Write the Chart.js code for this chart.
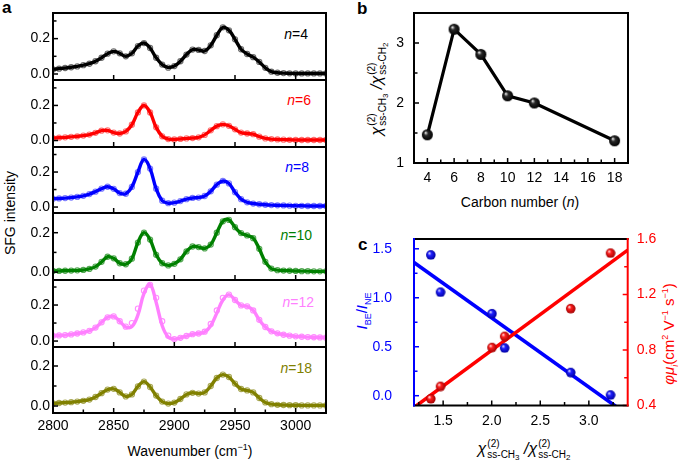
<!DOCTYPE html>
<html>
<head>
<meta charset="utf-8">
<script src="https://cdn.jsdelivr.net/npm/chart.js@4.4.1/dist/chart.umd.min.js"></script>
<style>
  html, body { margin: 0; padding: 0; background: #fff; }
  #fig { position: relative; width: 685px; height: 463px; overflow: hidden;
         font-family: 'Liberation Sans', Arial, Helvetica, sans-serif; color: #000; }
  #fig canvas { position: absolute; }
  .lbl { position: absolute; white-space: nowrap; font-size: 14px; line-height: 1; }
  .panel { font-weight: bold; font-size: 17px; }
  .ctr { transform: translate(-50%, -50%); }
  .rot { transform: translate(-50%, -50%) rotate(-90deg); }
  .nl { transform: translate(-100%, -50%); }
  .chi { font-size: 16px; font-style: italic; }
  .ss { display: inline-flex; flex-direction: column; vertical-align: 7px; font-size: 10px; line-height: 11px; margin-left: 1px; }
  .s2 { font-size: 8px; position: relative; top: 2px; }
  sup, sub { font-size: 9px; line-height: 0; }
</style>
</head>
<body>
<div id="fig">
  <div class="lbl panel" style="left:2px;top:-1px">a</div>
  <div class="lbl panel" style="left:357px;top:0px">b</div>
  <div class="lbl panel" style="left:358px;top:236px">c</div>

  <div class="lbl rot" style="left:10px;top:213px">SFG intensity</div>
  <div class="lbl ctr" style="left:190px;top:451px">Wavenumber (cm<sup>&minus;1</sup>)</div>

  <div class="lbl nl" style="left:308px;top:34px;color:#000000"><i>n</i>=4</div>
  <div class="lbl nl" style="left:311px;top:100px;color:#ff0000"><i>n</i>=6</div>
  <div class="lbl nl" style="left:309px;top:167px;color:#0000ff"><i>n</i>=8</div>
  <div class="lbl nl" style="left:312px;top:235px;color:#008000"><i>n</i>=10</div>
  <div class="lbl nl" style="left:314px;top:302px;color:#ff80ff"><i>n</i>=12</div>
  <div class="lbl nl" style="left:312px;top:368px;color:#808000"><i>n</i>=18</div>

  <div class="lbl ctr" style="left:520px;top:202px">Carbon number (<i>n</i>)</div>
  <div class="lbl rot" style="left:377px;top:89px"><span class="chi">&chi;</span><span class="ss"><span>(2)</span><span>ss-CH<span class="s2">3</span></span></span><span class="chi">&nbsp;/&chi;</span><span class="ss"><span>(2)</span><span>ss-CH<span class="s2">2</span></span></span></div>

  <div class="lbl ctr" style="left:524px;top:449px"><span class="chi">&chi;</span><span class="ss"><span>(2)</span><span>ss-CH<span class="s2">3</span></span></span><span class="chi">&nbsp;/&chi;</span><span class="ss"><span>(2)</span><span>ss-CH<span class="s2">2</span></span></span></div>
  <div class="lbl rot" style="left:361px;top:311px;color:#0000ff;font-size:15px"><i>I</i><sub>BE</sub>/<i>I</i><sub>NE</sub></div>
  <div class="lbl rot" style="left:668px;top:334px;color:#ff0000;font-size:15px"><i>&phi;&mu;</i><sub><i>i</i></sub>(cm<sup>2</sup> V<sup>&minus;1</sup> s<sup>&minus;1</sup>)</div>
</div>
<script>
// ---------- data ----------
const wavenumbers = [2800, 2805, 2810, 2815, 2820, 2825, 2830, 2835, 2840, 2845,
  2850, 2855, 2860, 2865, 2870, 2875, 2880, 2885, 2890, 2895,
  2900, 2905, 2910, 2915, 2920, 2925, 2930, 2935, 2940, 2945,
  2950, 2955, 2960, 2965, 2970, 2975, 2980, 2985, 2990, 2995,
  3000, 3005, 3010, 3015, 3020, 3025];

const sfgN4 = [0.026, 0.030, 0.034, 0.038, 0.043, 0.050, 0.058, 0.072, 0.092, 0.115,
  0.128, 0.117, 0.100, 0.117, 0.158, 0.175, 0.147, 0.092, 0.053, 0.036,
  0.045, 0.072, 0.110, 0.138, 0.136, 0.130, 0.162, 0.219, 0.264, 0.247,
  0.196, 0.140, 0.113, 0.095, 0.068, 0.035, 0.013, 0.007, 0.005, 0.004,
  0.003, 0.003, 0.003, 0.003, 0.003, 0.003];
const sfgN6 = [0.014, 0.016, 0.018, 0.021, 0.024, 0.028, 0.034, 0.044, 0.056, 0.058,
  0.045, 0.040, 0.052, 0.090, 0.160, 0.200, 0.160, 0.075, 0.024, 0.008,
  0.006, 0.009, 0.012, 0.014, 0.018, 0.032, 0.058, 0.082, 0.092, 0.084,
  0.064, 0.045, 0.040, 0.036, 0.022, 0.012, 0.008, 0.006, 0.005, 0.004,
  0.003, 0.003, 0.003, 0.003, 0.003, 0.003];
const sfgN8 = [0.048, 0.049, 0.051, 0.054, 0.058, 0.064, 0.074, 0.088, 0.105, 0.116,
  0.104, 0.080, 0.076, 0.115, 0.200, 0.272, 0.220, 0.105, 0.036, 0.022,
  0.025, 0.034, 0.045, 0.052, 0.054, 0.063, 0.090, 0.128, 0.149, 0.135,
  0.085, 0.045, 0.027, 0.020, 0.016, 0.013, 0.011, 0.010, 0.009, 0.008,
  0.007, 0.007, 0.006, 0.006, 0.006, 0.006];
const sfgN10 = [0.006, 0.006, 0.007, 0.008, 0.009, 0.011, 0.016, 0.028, 0.052, 0.078,
  0.070, 0.045, 0.040, 0.068, 0.150, 0.200, 0.165, 0.088, 0.045, 0.034,
  0.042, 0.065, 0.105, 0.130, 0.127, 0.120, 0.140, 0.200, 0.258, 0.265,
  0.228, 0.198, 0.186, 0.172, 0.118, 0.052, 0.018, 0.010, 0.008, 0.007,
  0.006, 0.005, 0.005, 0.004, 0.004, 0.004];
const sfgN12Fit = [0.030, 0.031, 0.033, 0.037, 0.042, 0.048, 0.057, 0.075, 0.104, 0.132,
  0.137, 0.110, 0.078, 0.080, 0.145, 0.265, 0.315, 0.215, 0.085, 0.022,
  0.011, 0.018, 0.028, 0.038, 0.042, 0.050, 0.085, 0.155, 0.228, 0.258,
  0.228, 0.198, 0.193, 0.170, 0.118, 0.078, 0.054, 0.043, 0.035, 0.030,
  0.026, 0.024, 0.022, 0.021, 0.020, 0.019];
const sfgN12Data = [0.030, 0.031, 0.033, 0.037, 0.042, 0.048, 0.057, 0.075, 0.104, 0.132,
  0.137, 0.110, 0.080, 0.100, 0.180, 0.280, 0.312, 0.240, 0.110, 0.030,
  0.011, 0.018, 0.028, 0.038, 0.042, 0.052, 0.095, 0.170, 0.240, 0.258,
  0.228, 0.198, 0.193, 0.170, 0.118, 0.078, 0.054, 0.043, 0.035, 0.030,
  0.026, 0.024, 0.022, 0.021, 0.020, 0.019];
const sfgN18 = [0.013, 0.015, 0.017, 0.019, 0.022, 0.026, 0.032, 0.045, 0.064, 0.082,
  0.086, 0.068, 0.048, 0.058, 0.098, 0.122, 0.095, 0.052, 0.022, 0.012,
  0.017, 0.035, 0.058, 0.066, 0.062, 0.068, 0.100, 0.140, 0.157, 0.145,
  0.112, 0.085, 0.078, 0.068, 0.040, 0.018, 0.009, 0.006, 0.005, 0.004,
  0.004, 0.003, 0.003, 0.003, 0.003, 0.003];

const wnMajorTicks = [2800, 2850, 2900, 2950, 3000];
const wnMinorTicks = [2825, 2875, 2925, 2975];
const sfgTicks = [0, 0.2];

// panel b
const carbonNumbers = [4, 6, 8, 10, 12, 18];
const chiRatio = [1.47, 3.23, 2.81, 2.12, 2.00, 1.37];
const carbonTicks = [4, 6, 8, 10, 12, 14, 16, 18];
const carbonMinorTicks = [5, 7, 9, 11, 13, 15, 17];
const chiTicks = [1, 2, 3];
const chiMinorTicks = [1.5, 2.5];

// panel c
const cChiRatio = [1.37, 1.47, 2.00, 2.13, 2.81, 3.22];
const cIntensityRatio = [1.44, 1.06, 0.84, 0.49, 0.24, 0.01];
const cMobility = [0.45, 0.54, 0.82, 0.90, 1.10, 1.50];
const fitX = [1.2, 3.4];
const intensityFitY = [1.36, -0.195];
const mobilityFitY = [0.386, 1.52];
const cXTicks = [1.5, 2.0, 2.5, 3.0];
const cXMinorTicks = [1.25, 1.75, 2.25, 2.75, 3.25];
const cLeftTicks = [0, 0.5, 1.0, 1.5];
const cLeftMinorTicks = [0.25, 0.75, 1.25];
const cRightTicks = [0.4, 0.8, 1.2, 1.6];
const cRightMinorTicks = [0.6, 1.0, 1.4];

// ---------- helpers ----------
Chart.defaults.font.family = "'Liberation Sans', Arial, Helvetica, sans-serif";
Chart.defaults.font.size = 14;
Chart.defaults.color = '#000';

const fig = document.getElementById('fig');
function addCanvas(left, top, w, h) {
  const c = document.createElement('canvas');
  c.width = w; c.height = h;
  c.style.left = left + 'px'; c.style.top = top + 'px';
  c.style.width = w + 'px'; c.style.height = h + 'px';
  fig.appendChild(c);
  return c;
}
const toXY = (xs, ys) => xs.map((x, i) => ({ x: x, y: ys[i] }));
const setTicks = (vals) => (s) => { s.ticks = vals.map((v) => ({ value: v })); };
const fixSize = (prop, val) => (s) => {
  s[prop] = val;
  s.paddingTop = s.paddingBottom = s.paddingLeft = s.paddingRight = 0;
};
const noGrid = { display: false, drawTicks: false };
const noBorder = { display: false };

// frame + inward ticks, drawn over the data
function makeFrame(cfg) {
  return {
    id: 'frame',
    afterDatasetsDraw(chart) {
      const { ctx, chartArea: a } = chart;
      ctx.save();
      ctx.lineCap = 'butt';
      (cfg.ticks || []).forEach((t) => {
        const s = chart.scales[t.scale];
        ctx.strokeStyle = t.color || '#000';
        ctx.lineWidth = 1.5;
        const draw = (v, len) => {
          const p = s.getPixelForValue(v);
          ctx.beginPath();
          if (t.side === 'bottom') { ctx.moveTo(p, a.bottom); ctx.lineTo(p, a.bottom - len); }
          else if (t.side === 'left') { ctx.moveTo(a.left, p); ctx.lineTo(a.left + len, p); }
          else { ctx.moveTo(a.right, p); ctx.lineTo(a.right - len, p); }
          ctx.stroke();
        };
        (t.major || []).forEach((v) => draw(v, 5));
        (t.minor || []).forEach((v) => draw(v, 3.5));
      });
      const c = cfg.colors || {};
      ctx.lineWidth = cfg.width || 2;
      ctx.lineCap = 'square';
      const side = (col, x1, y1, x2, y2) => {
        ctx.strokeStyle = col; ctx.beginPath(); ctx.moveTo(x1, y1); ctx.lineTo(x2, y2); ctx.stroke();
      };
      side(c.top || '#000', a.left, a.top, a.right, a.top);
      side(c.bottom || '#000', a.left, a.bottom, a.right, a.bottom);
      side(c.left || '#000', a.left, a.top, a.left, a.bottom);
      side(c.right || '#000', a.right, a.top, a.right, a.bottom);
      ctx.restore();
    },
  };
}

function sphere(r, light, mid, dark) {
  const c = document.createElement('canvas');
  c.width = c.height = 2 * r + 2;
  const g = c.getContext('2d');
  const cx = r + 1, cy = r + 1;
  const grad = g.createRadialGradient(cx - r * 0.35, cy - r * 0.4, r * 0.05, cx, cy, r);
  grad.addColorStop(0, light);
  grad.addColorStop(0.35, mid);
  grad.addColorStop(1, dark);
  g.fillStyle = grad;
  g.beginPath(); g.arc(cx, cy, r, 0, Math.PI * 2); g.fill();
  return c;
}

// ---------- panel a: six stacked spectra ----------
const panelTops = [13, 80, 147, 213, 280, 347, 413];
const spectra = [
  { fit: sfgN4, pts: sfgN4, color: '#000000', circ: 'rgba(60,60,60,0.75)', yMin: -0.034, yMax: 0.345 },
  { fit: sfgN6, pts: sfgN6, color: '#ff0000', circ: 'rgba(255,70,70,0.75)', yMin: -0.037, yMax: 0.345 },
  { fit: sfgN8, pts: sfgN8, color: '#0000ff', circ: 'rgba(80,80,255,0.75)', yMin: -0.034, yMax: 0.343 },
  { fit: sfgN10, pts: sfgN10, color: '#008000', circ: 'rgba(30,140,30,0.75)', yMin: -0.04, yMax: 0.30 },
  { fit: sfgN12Fit, pts: sfgN12Data, color: '#ff80ff', circ: 'rgba(255,120,255,0.85)', yMin: -0.033, yMax: 0.339 },
  { fit: sfgN18, pts: sfgN18, color: '#808000', circ: 'rgba(140,140,30,0.75)', yMin: -0.035, yMax: 0.295 },
];

spectra.forEach((s, i) => {
  const last = i === spectra.length - 1;
  const top = panelTops[i], bottom = panelTops[i + 1];
  const h = last ? 463 - (top - 10) : bottom - top + 20;
  const canvas = addCanvas(0, top - 10, 340, h);
  const yMinor = [0.1, 0.3].filter((v) => v < s.yMax - 0.01);
  new Chart(canvas, {
    type: 'line',
    data: {
      datasets: [
        { data: toXY(wavenumbers, s.fit), borderColor: s.color, borderWidth: 3.4, pointRadius: 0, tension: 0.4, clip: 0 },
        { data: toXY(wavenumbers, s.pts), showLine: false, borderColor: s.circ, backgroundColor: 'rgba(0,0,0,0)',
          borderWidth: 1.1, pointRadius: 2.6, clip: 0 },
      ],
    },
    options: {
      responsive: false, animation: false, events: [],
      layout: { padding: { left: 0, right: 14, top: 10, bottom: last ? 0 : 10 } },
      plugins: { legend: { display: false }, tooltip: { enabled: false } },
      scales: {
        x: {
          type: 'linear', min: 2800, max: 3025, display: last,
          grid: noGrid, border: noBorder,
          afterBuildTicks: setTicks(wnMajorTicks),
          ticks: { padding: 5, callback: (v) => String(v) },
          afterFit: fixSize('height', last ? 50 : 0),
        },
        y: {
          type: 'linear', min: s.yMin, max: s.yMax,
          grid: noGrid, border: noBorder,
          afterBuildTicks: setTicks(sfgTicks),
          ticks: { padding: 3, callback: (v) => Number(v).toFixed(1) },
          afterFit: fixSize('width', 53),
        },
      },
    },
    plugins: [makeFrame({
      width: 2,
      ticks: [
        { scale: 'x', side: 'bottom', major: wnMajorTicks.slice(1), minor: last ? wnMinorTicks : [] },
        { scale: 'y', side: 'left', major: sfgTicks, minor: yMinor },
      ],
    })],
  });
});

// ---------- panel b ----------
(function () {
  const canvas = addCanvas(380, 0, 260, 220);
  new Chart(canvas, {
    type: 'line',
    data: {
      datasets: [{
        data: toXY(carbonNumbers, chiRatio),
        borderColor: '#000', borderWidth: 3.2, tension: 0,
        pointStyle: sphere(5.5, '#f2f2f2', '#2a2a2a', '#000'), pointRadius: 5.5, clip: 0,
      }],
    },
    options: {
      responsive: false, animation: false, events: [],
      layout: { padding: { left: 0, right: 12, top: 13, bottom: 0 } },
      plugins: { legend: { display: false }, tooltip: { enabled: false } },
      scales: {
        x: {
          type: 'linear', min: 3, max: 19, grid: noGrid, border: noBorder,
          afterBuildTicks: setTicks(carbonTicks),
          ticks: { padding: 7, callback: (v) => String(v) },
          afterFit: fixSize('height', 57),
        },
        y: {
          type: 'linear', min: 1, max: 3.5, grid: noGrid, border: noBorder,
          afterBuildTicks: setTicks(chiTicks),
          ticks: { padding: 10, callback: (v) => String(v) },
          afterFit: fixSize('width', 34),
        },
      },
    },
    plugins: [makeFrame({
      width: 2,
      ticks: [
        { scale: 'x', side: 'bottom', major: carbonTicks, minor: carbonMinorTicks },
        { scale: 'y', side: 'left', major: chiTicks, minor: chiMinorTicks },
      ],
    })],
  });
})();

// ---------- panel c ----------
(function () {
  const BLUE = '#0000ff', RED = '#ff0000';
  const canvas = addCanvas(350, 230, 335, 233);
  new Chart(canvas, {
    type: 'line',
    data: {
      datasets: [
        { data: toXY(cChiRatio, cMobility), yAxisID: 'y2', showLine: false,
          pointStyle: sphere(4.8, '#ffe6e6', '#ff2020', '#a00000'), pointRadius: 4.8, clip: 0 },
        { data: toXY(cChiRatio, cIntensityRatio), yAxisID: 'y', showLine: false,
          pointStyle: sphere(4.8, '#e6e6ff', '#2020ff', '#0000a0'), pointRadius: 4.8, clip: 0 },
        { data: toXY(fitX, mobilityFitY), yAxisID: 'y2', borderColor: RED, borderWidth: 3.6, pointRadius: 0, clip: 0 },
        { data: toXY(fitX, intensityFitY), yAxisID: 'y', borderColor: BLUE, borderWidth: 3.6, pointRadius: 0, clip: 0 },
      ],
    },
    options: {
      responsive: false, animation: false, events: [],
      layout: { padding: { left: 0, right: 0, top: 9, bottom: 0 } },
      plugins: { legend: { display: false }, tooltip: { enabled: false } },
      scales: {
        x: {
          type: 'linear', min: 1.2, max: 3.4, grid: noGrid, border: noBorder,
          afterBuildTicks: setTicks(cXTicks),
          ticks: { padding: 7, callback: (v) => Number(v).toFixed(1) },
          afterFit: fixSize('height', 57.5),
        },
        y: {
          type: 'linear', position: 'left', min: -0.1, max: 1.6, grid: noGrid, border: noBorder,
          afterBuildTicks: setTicks(cLeftTicks),
          ticks: { padding: 22, color: BLUE, callback: (v) => Number(v).toFixed(1) },
          afterFit: fixSize('width', 64),
        },
        y2: {
          type: 'linear', position: 'right', min: 0.4, max: 1.6, grid: noGrid, border: noBorder,
          afterBuildTicks: setTicks(cRightTicks),
          ticks: { padding: 9, color: RED, callback: (v) => Number(v).toFixed(1) },
          afterFit: fixSize('width', 57.3),
        },
      },
    },
    plugins: [makeFrame({
      width: 2,
      colors: { left: BLUE, right: RED },
      ticks: [
        { scale: 'x', side: 'bottom', major: cXTicks, minor: cXMinorTicks },
        { scale: 'y', side: 'left', major: cLeftTicks, minor: cLeftMinorTicks, color: BLUE },
        { scale: 'y2', side: 'right', major: cRightTicks, minor: cRightMinorTicks, color: RED },
      ],
    })],
  });
})();
</script>
</body>
</html>
